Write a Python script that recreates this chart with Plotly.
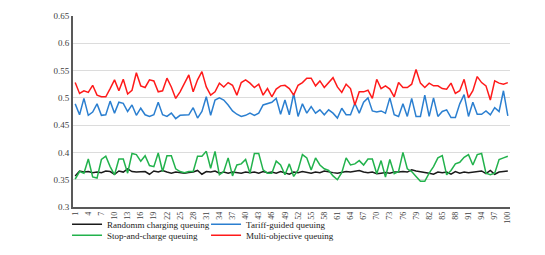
import plotly.graph_objects as go

x_values = list(range(1, 101))
tick_vals = list(range(1, 101, 3))
tick_text = [str(v) for v in tick_vals]
y_ticks = [0.3, 0.35, 0.4, 0.45, 0.5, 0.55, 0.6, 0.65]
y_tick_text = ["0.3", "0.35", "0.4", "0.45", "0.5", "0.55", "0.6", "0.65"]

random_q = [0.357, 0.366, 0.364, 0.365, 0.363, 0.364, 0.363, 0.366, 0.365, 0.360,
            0.366, 0.364, 0.370, 0.365, 0.364, 0.364, 0.365, 0.360, 0.366, 0.364,
            0.367, 0.364, 0.362, 0.364, 0.363, 0.362, 0.363, 0.364, 0.367, 0.360,
            0.365, 0.364, 0.366, 0.362, 0.364, 0.362, 0.364, 0.363, 0.362, 0.364,
            0.363, 0.364, 0.362, 0.365, 0.363, 0.364, 0.362, 0.365, 0.363, 0.360,
            0.364, 0.363, 0.365, 0.363, 0.362, 0.364, 0.363, 0.366, 0.364, 0.363,
            0.362, 0.363, 0.365, 0.364, 0.366, 0.367, 0.364, 0.363, 0.364, 0.361,
            0.362, 0.363, 0.362, 0.364, 0.364, 0.365, 0.364, 0.368, 0.366, 0.365,
            0.363, 0.362, 0.360, 0.364, 0.363, 0.364, 0.360, 0.365, 0.362, 0.364,
            0.363, 0.364, 0.364, 0.366, 0.361, 0.367, 0.360, 0.364, 0.365, 0.366]

tariff_q = [0.489, 0.469, 0.499, 0.468, 0.474, 0.489, 0.468, 0.469, 0.494, 0.472,
            0.492, 0.490, 0.475, 0.487, 0.468, 0.481, 0.469, 0.466, 0.469, 0.492,
            0.469, 0.466, 0.472, 0.462, 0.468, 0.469, 0.469, 0.482, 0.463, 0.475,
            0.502, 0.468, 0.496, 0.500, 0.496, 0.487, 0.476, 0.470, 0.466, 0.468,
            0.472, 0.468, 0.472, 0.487, 0.490, 0.492, 0.499, 0.470, 0.496, 0.469,
            0.508, 0.466, 0.489, 0.472, 0.484, 0.472, 0.478, 0.469, 0.478, 0.472,
            0.463, 0.481, 0.469, 0.469, 0.490, 0.472, 0.492, 0.500, 0.476, 0.474,
            0.476, 0.472, 0.500, 0.469, 0.466, 0.489, 0.466, 0.499, 0.466, 0.466,
            0.505, 0.466, 0.500, 0.466, 0.475, 0.478, 0.464, 0.464, 0.489, 0.506,
            0.466, 0.492, 0.470, 0.470, 0.476, 0.469, 0.482, 0.475, 0.513, 0.467]

stop_q = [0.351, 0.365, 0.362, 0.388, 0.355, 0.353, 0.387, 0.393, 0.374, 0.359,
          0.388, 0.388, 0.362, 0.398, 0.396, 0.384, 0.394, 0.376, 0.374, 0.399,
          0.365, 0.394, 0.394, 0.370, 0.365, 0.363, 0.365, 0.365, 0.393, 0.393,
          0.402, 0.371, 0.402, 0.359, 0.365, 0.390, 0.357, 0.377, 0.379, 0.387,
          0.362, 0.398, 0.398, 0.368, 0.362, 0.362, 0.384, 0.377, 0.359, 0.379,
          0.356, 0.368, 0.396, 0.390, 0.368, 0.390, 0.377, 0.370, 0.367, 0.357,
          0.350, 0.363, 0.390, 0.377, 0.379, 0.385, 0.377, 0.388, 0.388, 0.361,
          0.385, 0.355, 0.387, 0.361, 0.365, 0.400, 0.370, 0.365, 0.356, 0.347,
          0.347, 0.362, 0.374, 0.390, 0.394, 0.359, 0.367, 0.379, 0.382, 0.391,
          0.396, 0.377, 0.396, 0.398, 0.362, 0.359, 0.362, 0.387, 0.390, 0.393]

multi_q = [0.528, 0.508, 0.513, 0.510, 0.523, 0.505, 0.502, 0.502, 0.517, 0.533,
           0.513, 0.534, 0.507, 0.514, 0.546, 0.522, 0.519, 0.533, 0.531, 0.511,
           0.513, 0.536, 0.520, 0.499, 0.511, 0.527, 0.542, 0.511, 0.533, 0.548,
           0.520, 0.505, 0.511, 0.527, 0.520, 0.528, 0.523, 0.505, 0.528, 0.533,
           0.527, 0.519, 0.525, 0.505, 0.517, 0.502, 0.516, 0.522, 0.523, 0.517,
           0.505, 0.523, 0.528, 0.536, 0.536, 0.522, 0.531, 0.519, 0.528, 0.537,
           0.520, 0.510, 0.525, 0.517, 0.487, 0.511, 0.511, 0.514, 0.499, 0.534,
           0.517, 0.522, 0.516, 0.502, 0.528, 0.519, 0.519, 0.525, 0.552, 0.527,
           0.519, 0.527, 0.522, 0.522, 0.517, 0.516, 0.527, 0.508, 0.513, 0.534,
           0.500, 0.513, 0.539, 0.528, 0.522, 0.496, 0.531, 0.527, 0.525, 0.528]

font_family = "Liberation Serif, Times New Roman, serif"

fig = go.Figure()
fig.add_trace(go.Scatter(x=x_values, y=random_q, mode="lines", name="Randomm charging queuing",
                         line=dict(color="#1a1a1a", width=1.5), legend="legend"))
fig.add_trace(go.Scatter(x=x_values, y=tariff_q, mode="lines", name="Tariff-guided queuing",
                         line=dict(color="#2b7fd0", width=1.5), legend="legend"))
fig.add_trace(go.Scatter(x=x_values, y=stop_q, mode="lines", name="Stop-and-charge queuing",
                         line=dict(color="#22b24c", width=1.5), legend="legend2"))
fig.add_trace(go.Scatter(x=x_values, y=multi_q, mode="lines", name="Multi-objective queuing",
                         line=dict(color="#ff1a1a", width=1.5), legend="legend2"))

legend_common = dict(orientation="h", xanchor="left", yanchor="top",
                     xref="container", yref="container",
                     font=dict(family=font_family, size=9, color="#222222"),
                     bgcolor="rgba(0,0,0,0)", entrywidth=94, itemwidth=30,
                     tracegroupgap=0, traceorder="normal")

fig.update_layout(
    width=545, height=255,
    margin=dict(l=73, r=35, t=16, b=48, autoexpand=False),
    paper_bgcolor="white", plot_bgcolor="white",
    font=dict(family=font_family, size=9, color="#404040"),
    showlegend=True,
    legend=dict(x=0.123, y=0.177, **legend_common),
    legend2=dict(x=0.123, y=0.134, **legend_common),
    xaxis=dict(range=[0.5, 100.5], tickmode="array", tickvals=tick_vals, ticktext=tick_text,
               tickangle=-90, tickfont=dict(size=8, family=font_family, color="#404040"),
               showgrid=False, zeroline=False, showline=True, linecolor="#595959", linewidth=1.5,
               ticks="", fixedrange=True),
    yaxis=dict(range=[0.3, 0.65], tickmode="array", tickvals=y_ticks, ticktext=y_tick_text,
               tickfont=dict(size=9, family=font_family, color="#404040"),
               showgrid=True, gridcolor="#dcdcdc", gridwidth=1, zeroline=False,
               showline=True, linecolor="#595959", linewidth=2, ticks="",
               fixedrange=True),
)

fig.write_html("out.html", config={"displayModeBar": False, "staticPlot": True},
               post_script="document.body.style.margin='0';")
